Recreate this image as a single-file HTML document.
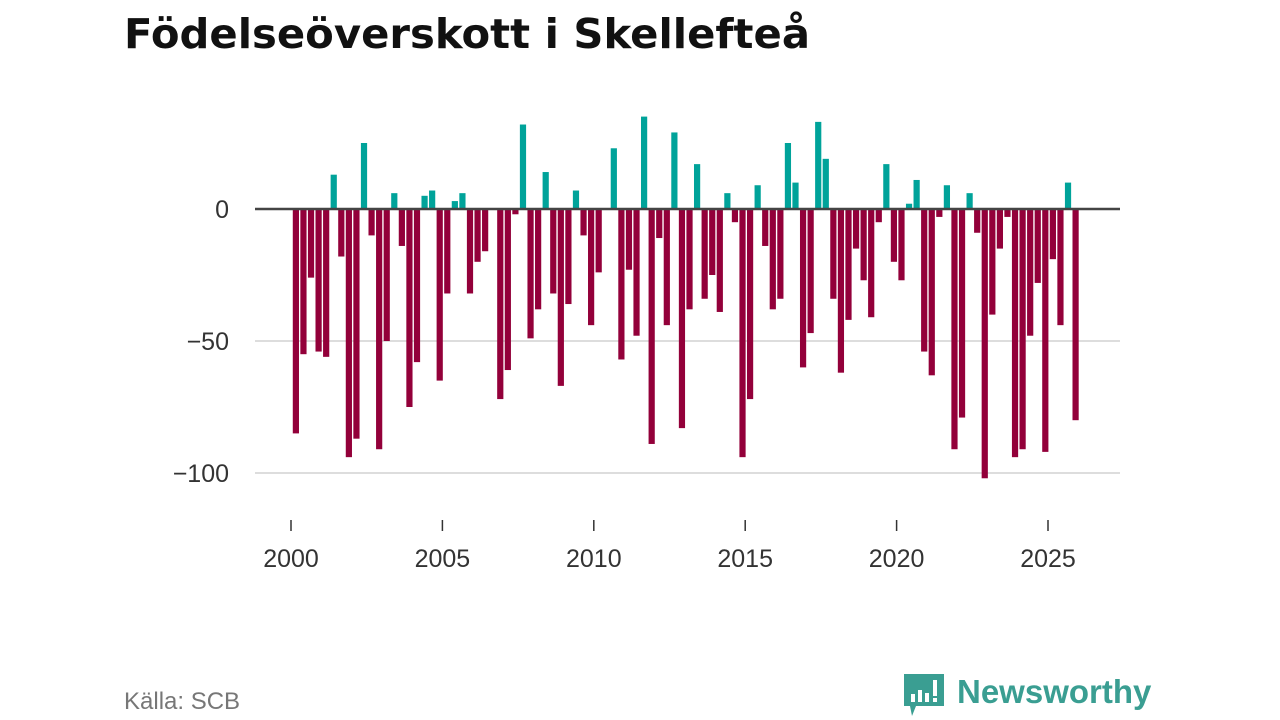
<!DOCTYPE html>
<html><head><meta charset="utf-8">
<style>
body{margin:0;width:1280px;height:720px;background:#fff;overflow:hidden;font-family:"Liberation Sans","DejaVu Sans",sans-serif}
#source{position:absolute;left:124px;top:688px;font-size:24px;color:#777}
#logo{position:absolute;left:902px;top:672px;width:260px;height:48px}
</style></head><body>
<svg id="titlesvg" width="1280" height="70" style="position:absolute;left:0;top:0">
<text x="124" y="48" font-family="DejaVu Sans, sans-serif" font-size="41" font-weight="bold" fill="#111" textLength="686" lengthAdjust="spacingAndGlyphs">Födelseöverskott i Skellefteå</text>
</svg>
<svg id="chart" width="1280" height="720" style="position:absolute;left:0;top:0"></svg>
<div id="source">Källa: SCB</div>
<svg id="logo" viewBox="0 0 260 48">
<path d="M2 2h40v32H14l-4 10-2-10H2z" fill="#3a9e92"/>
<rect x="9" y="22" width="4" height="8" fill="#fff"/><rect x="16" y="18" width="4" height="12" fill="#fff"/><rect x="23" y="21" width="4" height="9" fill="#fff"/><rect x="31" y="8" width="4" height="16" fill="#fff"/><rect x="31" y="26" width="4" height="4" fill="#fff"/>
<text x="55" y="31" font-family="Liberation Sans, sans-serif" font-size="33" font-weight="bold" fill="#3a9e92">Newsworthy</text>
</svg>
<script>
const startYear = 2000;
const values = [-85,-55,-26,-54, -56,13,-18,-94, -87,25,-10,-91, -50,6,-14,-75, -58,5,7,-65,
-32,3,6,-32, -20,-16,0,-72, -61,-2,32,-49, -38,14,-32,-67, -36,7,-10,-44,
-24,0,23,-57, -23,-48,35,-89, -11,-44,29,-83, -38,17,-34,-25, -39,6,-5,-94,
-72,9,-14,-38, -34,25,10,-60, -47,33,19,-34, -62,-42,-15,-27, -41,-5,17,-20,
-27,2,11,-54, -63,-3,9,-91, -79,6,-9,-102, -40,-15,-3,-94, -91,-48,-28,-92, -19,-44,10,-80];
const yTicks = [0,-50,-100];
const xTicks = [2000,2005,2010,2015,2020,2025];
const NS="http://www.w3.org/2000/svg";
const svg=document.getElementById('chart');
const x = yr => 291 + (yr-2000)*30.28;
const y = v => 209 - v*2.64;
function mk(t,a){const e=document.createElementNS(NS,t);for(const k in a)e.setAttribute(k,a[k]);svg.appendChild(e);return e;}
yTicks.forEach(t=>{
  if(t!==0){const g=mk('line',{x1:255,x2:1120,y1:y(t),y2:y(t),stroke:'#dddddd','stroke-width':2});
  
  }
  const l=mk('text',{x:229,y:y(t)+9,'text-anchor':'end','font-size':25,fill:'#333','font-family':'Liberation Sans, sans-serif'});
  l.textContent=t<0?'\u2212'+Math.abs(t):String(t);
  
  
});
values.forEach((v,i)=>{
  const cx=x(startYear+(i+0.5)/4)+1;
  const top=v>=0?y(v):y(0), h=Math.abs(y(v)-y(0));
  const r=mk('rect',{x:cx-3,y:top,width:6.2,height:h,fill:v>=0?'#00a39a':'#93003a'});
  
  
});
const z=mk('line',{x1:255,x2:1120,y1:y(0),y2:y(0),stroke:'#444','stroke-width':2.5});


xTicks.forEach(t=>{
  const tk=mk('line',{x1:x(t),x2:x(t),y1:520,y2:531,stroke:'#333','stroke-width':1.5});
  
  
  const l=mk('text',{x:x(t),y:567,'text-anchor':'middle','font-size':25,fill:'#333','font-family':'Liberation Sans, sans-serif'});
  l.textContent=t;
  
  
});
</script>
</body></html>
